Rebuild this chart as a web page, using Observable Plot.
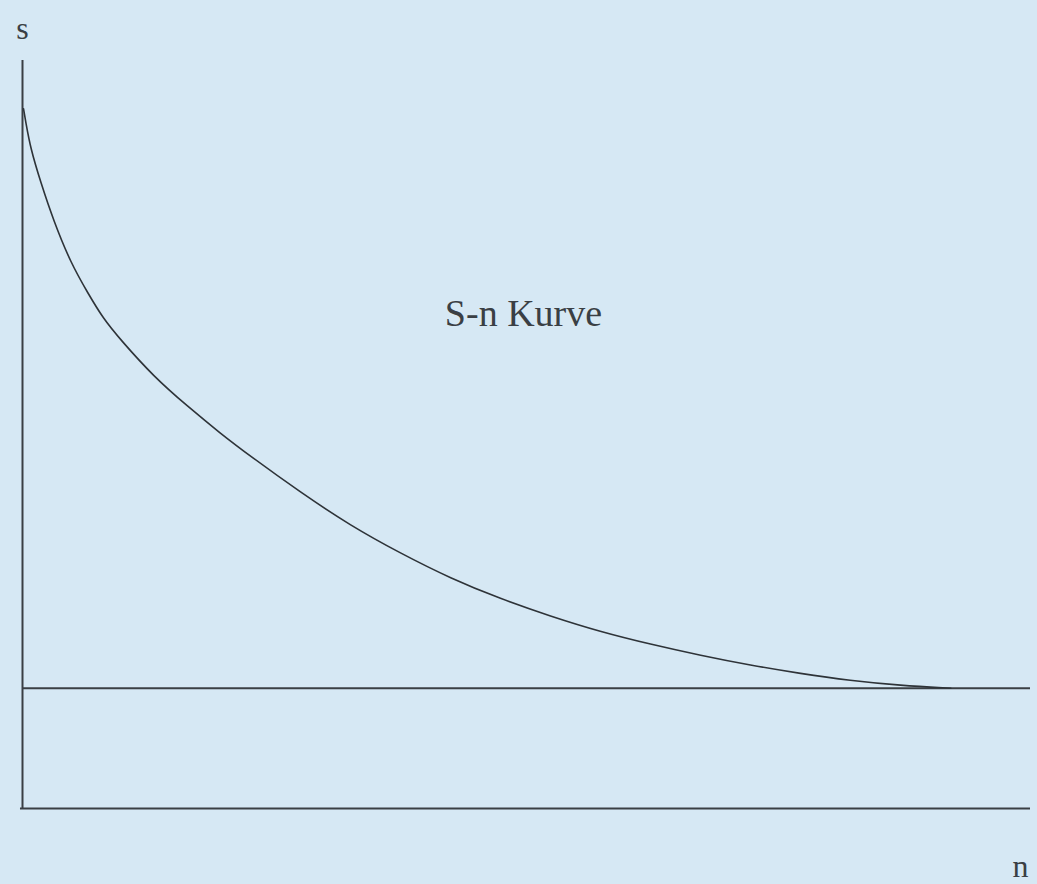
<!DOCTYPE html>
<html>
<head>
<meta charset="utf-8">
<script src="https://cdn.jsdelivr.net/npm/d3@7"></script>
<script src="https://cdn.jsdelivr.net/npm/@observablehq/plot@0.6"></script>
<style>
  html, body { margin: 0; padding: 0; background: #d6e8f4; overflow: hidden; }
  #chart svg { display: block; }
</style>
</head>
<body>
<div id="chart"></div>
<script>
// S-n curve (Wöhler curve), arbitrary units
const nValues = [0.1, 0.3, 0.8, 1.8, 3.1, 4.8, 6.5, 8.0, 9.7, 13.0, 16.4, 19.6, 22.6, 27.6, 32.5, 37.5, 42.5, 47.4, 52.4, 57.3, 62.3, 67.3, 72.2, 77.2, 82.1, 87.1, 92.1];
const sValues = [100.1, 98.4, 94.4, 89.6, 84.0, 78.0, 73.7, 70.1, 67.1, 61.8, 57.5, 53.7, 50.4, 45.2, 40.5, 36.5, 32.9, 30.0, 27.5, 25.3, 23.5, 21.9, 20.5, 19.3, 18.3, 17.6, 17.2];
const enduranceLimit = 17.2;
const axisTop = 107;
const nMax = 100;
const labels = [
  {n: 0, s: 111.5, text: "s"},
  {n: 99.0, s: -8.4, text: "n"},
  {n: 49.7, s: 70.8, text: "S-n Kurve"}
];

const curve = nValues.map((n, i) => ({n, s: sValues[i]}));

const plot = Plot.plot({
  width: 1037,
  height: 884,
  marginLeft: 22,
  marginRight: 7,
  marginTop: 60,
  marginBottom: 76,
  x: {domain: [0, nMax], axis: null},
  y: {domain: [0, axisTop], axis: null},
  style: {background: "#d6e8f4", fontFamily: "'Liberation Serif', 'DejaVu Serif', serif", overflow: "visible"},
  marks: [
    // axes
    Plot.ruleX([0], {y1: 0, y2: axisTop, stroke: "#3a3f44", strokeWidth: 2}),
    Plot.ruleY([0], {x1: -0.2, x2: nMax, stroke: "#3a3f44", strokeWidth: 2}),
    // endurance limit asymptote
    Plot.ruleY([enduranceLimit], {x1: 0, x2: nMax, stroke: "#3a3f44", strokeWidth: 2}),
    // curve
    Plot.line(curve, {x: "n", y: "s", curve: "basis", stroke: "#2e3338", strokeWidth: 1.6}),
    // labels
    Plot.text(labels.slice(0, 2), {x: "n", y: "s", text: "text", fontSize: 32, fill: "#3a3f44", textAnchor: "middle"}),
    Plot.text(labels.slice(2), {x: "n", y: "s", text: "text", fontSize: 38, fill: "#3a3f44", textAnchor: "middle"})
  ]
});
document.getElementById("chart").appendChild(plot);
</script>
</body>
</html>
